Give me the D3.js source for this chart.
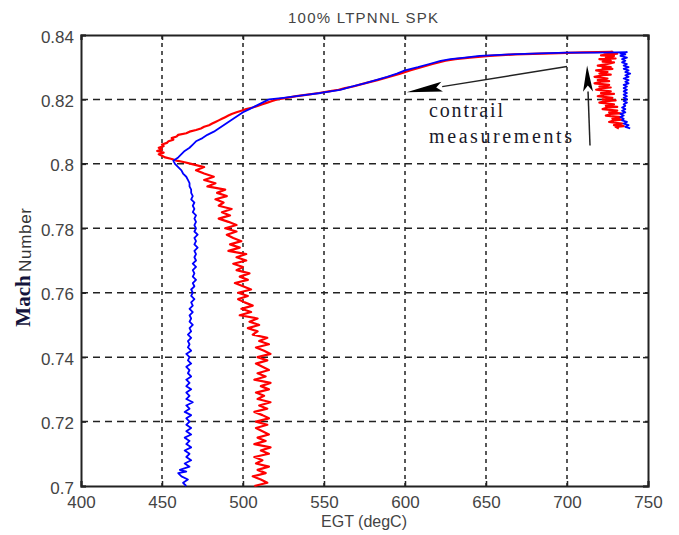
<!DOCTYPE html>
<html>
<head>
<meta charset="utf-8">
<script src="https://cdn.jsdelivr.net/npm/d3@7"></script>
<style>
  body { margin: 0; background: #fff; }
  text { font-family: "Liberation Sans", Arial, sans-serif; }
</style>
</head>
<body>
<div id="app"></div>
<script>
const xTicks = [400, 450, 500, 550, 600, 650, 700, 750];
const yTicks = [0.7, 0.72, 0.74, 0.76, 0.78, 0.8, 0.82, 0.84];

// [mach, egt] in recorded order
const blueTrace = [
  [0.700, 465], [0.701, 463], [0.702, 466], [0.703, 462], [0.704, 460], [0.7045, 465],
  [0.705, 461], [0.706, 467], [0.707, 464], [0.708, 468], [0.709, 465], [0.710, 467],
  [0.711, 464], [0.712, 468], [0.713, 465], [0.714, 467], [0.715, 464], [0.716, 468],
  [0.717, 465], [0.718, 468], [0.719, 465], [0.720, 467], [0.721, 465], [0.722, 468],
  [0.723, 464], [0.724, 467], [0.725, 465], [0.726, 469], [0.727, 465], [0.728, 467],
  [0.729, 465], [0.730, 468], [0.731, 465], [0.732, 467], [0.733, 465], [0.734, 468],
  [0.735, 466], [0.736, 467], [0.737, 465], [0.738, 468], [0.739, 466], [0.740, 467],
  [0.741, 465], [0.742, 468], [0.743, 466], [0.744, 467], [0.745, 466], [0.746, 468],
  [0.747, 466], [0.748, 468], [0.749, 467], [0.750, 469], [0.751, 467], [0.752, 468],
  [0.753, 467], [0.754, 469], [0.755, 467], [0.756, 469], [0.757, 468], [0.758, 470],
  [0.759, 468], [0.760, 469], [0.761, 468], [0.762, 470], [0.763, 469], [0.764, 471],
  [0.765, 469], [0.766, 470], [0.767, 469], [0.768, 471], [0.769, 469], [0.770, 471],
  [0.771, 470], [0.772, 471], [0.773, 470], [0.774, 472], [0.775, 470], [0.776, 471],
  [0.777, 470], [0.778, 472], [0.779, 470], [0.780, 471], [0.781, 470], [0.782, 471],
  [0.783, 470], [0.784, 471], [0.785, 469], [0.786, 470], [0.787, 469], [0.788, 470],
  [0.789, 468], [0.790, 469], [0.791, 468], [0.792, 468], [0.793, 467], [0.794, 467],
  [0.795, 466], [0.796, 465], [0.797, 463], [0.798, 462], [0.799, 460], [0.800, 458],
  [0.801, 457], [0.802, 460], [0.803, 462], [0.804, 464], [0.805, 467], [0.806, 469],
  [0.807, 471], [0.808, 475], [0.809, 478], [0.810, 482], [0.811, 485], [0.812, 488],
  [0.813, 491], [0.814, 494], [0.815, 497], [0.816, 500], [0.817, 504], [0.818, 508],
  [0.819, 512], [0.820, 516], [0.8205, 525], [0.821, 533], [0.8215, 540], [0.822, 548],
  [0.823, 560], [0.824, 567], [0.825, 575], [0.826, 582], [0.827, 589], [0.828, 595],
  [0.829, 600], [0.830, 608], [0.831, 615], [0.832, 622], [0.8325, 628], [0.833, 637],
  [0.8335, 646], [0.834, 665], [0.8343, 683], [0.8345, 700], [0.8345, 717], [0.8346, 730],
  [0.8347, 737], [0.8342, 733], [0.834, 736], [0.8335, 733], [0.833, 737], [0.8325, 734],
  [0.832, 736], [0.8315, 734], [0.831, 737], [0.8305, 735], [0.830, 738], [0.8295, 735],
  [0.829, 738], [0.8285, 736], [0.828, 739], [0.8275, 736], [0.827, 738], [0.8265, 735],
  [0.826, 738], [0.8255, 736], [0.825, 738], [0.8245, 735], [0.824, 737], [0.8235, 735],
  [0.823, 737], [0.8225, 735], [0.822, 737], [0.8215, 735], [0.821, 737], [0.8205, 735],
  [0.820, 737], [0.8195, 735], [0.819, 737], [0.8185, 735], [0.818, 736], [0.8175, 734],
  [0.817, 736], [0.8165, 734], [0.816, 736], [0.8155, 733], [0.815, 735], [0.8145, 733],
  [0.814, 735], [0.8135, 734], [0.813, 737], [0.8125, 735], [0.812, 738], [0.8115, 736],
  [0.811, 739]
];

const redTrace = [
  [0.700, 507], [0.701, 515], [0.702, 511], [0.703, 506], [0.704, 514], [0.705, 509],
  [0.706, 516], [0.707, 508], [0.708, 512], [0.709, 507], [0.710, 516], [0.711, 511],
  [0.712, 517], [0.713, 507], [0.714, 514], [0.715, 509], [0.716, 516], [0.717, 512],
  [0.718, 508], [0.719, 515], [0.720, 508], [0.721, 516], [0.722, 512], [0.723, 507],
  [0.724, 515], [0.725, 510], [0.726, 517], [0.727, 509], [0.728, 513], [0.729, 508],
  [0.730, 516], [0.731, 511], [0.732, 517], [0.733, 507], [0.734, 514], [0.735, 509],
  [0.736, 516], [0.737, 512], [0.738, 508], [0.739, 515], [0.740, 509], [0.741, 517],
  [0.742, 513], [0.743, 508], [0.744, 516], [0.745, 510], [0.746, 515], [0.747, 506],
  [0.748, 509], [0.749, 503], [0.750, 510], [0.751, 504], [0.752, 509], [0.753, 498],
  [0.754, 505], [0.755, 499], [0.756, 506], [0.757, 501], [0.758, 497], [0.759, 503],
  [0.760, 497], [0.761, 505], [0.762, 500], [0.763, 495], [0.764, 503], [0.765, 498],
  [0.766, 504], [0.767, 496], [0.768, 500], [0.769, 494], [0.770, 502], [0.771, 496],
  [0.772, 502], [0.773, 491], [0.774, 498], [0.775, 492], [0.776, 499], [0.777, 494],
  [0.778, 490], [0.779, 496], [0.780, 489], [0.781, 496], [0.782, 491], [0.783, 485],
  [0.784, 492], [0.785, 487], [0.786, 493], [0.787, 485], [0.788, 488], [0.789, 483],
  [0.790, 490], [0.791, 484], [0.792, 489], [0.793, 478], [0.794, 483], [0.795, 476],
  [0.796, 482], [0.797, 476], [0.798, 471], [0.799, 476], [0.800, 468], [0.8005, 464],
  [0.801, 459], [0.8015, 456], [0.802, 452], [0.8025, 450], [0.803, 448], [0.8035, 451],
  [0.804, 447], [0.8045, 450], [0.805, 448], [0.8055, 451], [0.806, 450], [0.8065, 453],
  [0.807, 454], [0.8075, 457], [0.808, 456], [0.8085, 459], [0.809, 460], [0.8095, 465],
  [0.810, 467], [0.8105, 471], [0.811, 474], [0.8115, 476], [0.812, 479], [0.8125, 481],
  [0.813, 483], [0.8135, 485], [0.814, 487], [0.8145, 489], [0.815, 491], [0.8155, 493],
  [0.816, 496], [0.8165, 499], [0.817, 502], [0.8175, 506], [0.818, 509], [0.8185, 512],
  [0.819, 515], [0.8195, 518], [0.820, 521], [0.8205, 527], [0.821, 533], [0.8215, 540],
  [0.822, 547], [0.8225, 553], [0.823, 559], [0.8235, 563], [0.824, 568], [0.825, 575],
  [0.826, 583], [0.827, 590], [0.828, 597], [0.829, 603], [0.830, 610], [0.831, 617],
  [0.832, 625], [0.8325, 631], [0.833, 640], [0.8335, 652], [0.834, 668], [0.8343, 690],
  [0.8346, 710], [0.8348, 728], [0.8345, 723], [0.8342, 731], [0.834, 726], [0.8337, 721],
  [0.8335, 729], [0.833, 724], [0.8327, 730], [0.8325, 720], [0.832, 727], [0.8317, 722],
  [0.8315, 729], [0.831, 725], [0.8305, 719], [0.830, 727], [0.8297, 722], [0.8295, 728],
  [0.829, 718], [0.8285, 725], [0.828, 720], [0.8277, 727], [0.8275, 722], [0.827, 717],
  [0.8265, 725], [0.826, 719], [0.8257, 726], [0.8255, 721], [0.825, 717], [0.8245, 726],
  [0.824, 720], [0.8237, 727], [0.8235, 722], [0.823, 718], [0.8225, 727], [0.822, 721],
  [0.8217, 729], [0.8215, 723], [0.821, 719], [0.8205, 728], [0.820, 722], [0.8197, 730],
  [0.8195, 724], [0.819, 720], [0.8185, 729], [0.818, 724], [0.8177, 731], [0.8175, 725],
  [0.817, 722], [0.8165, 731], [0.816, 726], [0.8157, 733], [0.8155, 727], [0.815, 724],
  [0.8145, 733], [0.814, 728], [0.8137, 734], [0.8135, 729], [0.813, 726], [0.8125, 734],
  [0.812, 729], [0.8117, 735], [0.8115, 730], [0.811, 732]
];

// annotation arrows: [from egt, from mach, tip egt, tip mach]
const arrowSlant = [700, 0.8302, 601, 0.8222];
const arrowUp = [714.2, 0.8057, 712.4, 0.8305];

const w = 679;
const h = 535;
const plotLeft = 81, plotRight = 648, plotTop = 35, plotBottom = 486;

const xScale = d3.scaleLinear().domain([400, 750]).range([plotLeft, plotRight]);
const yScale = d3.scaleLinear().domain([0.7, 0.84]).range([plotBottom, plotTop]);

const svg = d3.select("#app").append("svg").attr("width", w).attr("height", h);
svg.append("rect").attr("width", w).attr("height", h).attr("fill", "#fff");

//grid
svg.append("g")
  .selectAll("line")
  .data(xTicks.slice(1, -1))
  .join("line")
  .attr("x1", (d) => xScale(d)).attr("x2", (d) => xScale(d))
  .attr("y1", plotTop).attr("y2", plotBottom)
  .attr("stroke", "#222").attr("stroke-width", 1.5)
  .attr("stroke-dasharray", "4,4");

svg.append("g")
  .selectAll("line")
  .data(yTicks.slice(1, -1))
  .join("line")
  .attr("y1", (d) => yScale(d)).attr("y2", (d) => yScale(d))
  .attr("x1", plotLeft).attr("x2", plotRight)
  .attr("stroke", "#222").attr("stroke-width", 1.5)
  .attr("stroke-dasharray", "7,5");

//axes (MATLAB style inner ticks)
const xAxis = svg.append("g").attr("transform", `translate(0,${plotBottom})`)
  .call(d3.axisBottom(xScale).tickValues(xTicks).tickSize(-5).tickPadding(10).tickFormat(d3.format("d")));
const xAxisTop = svg.append("g").attr("transform", `translate(0,${plotTop})`)
  .call(d3.axisTop(xScale).tickValues(xTicks).tickSize(-5).tickFormat(""));
const yAxis = svg.append("g").attr("transform", `translate(${plotLeft},0)`)
  .call(d3.axisLeft(yScale).tickValues(yTicks).tickSize(-5).tickPadding(7).tickFormat((d) => String(+d.toFixed(2))));
const yAxisRight = svg.append("g").attr("transform", `translate(${plotRight},0)`)
  .call(d3.axisRight(yScale).tickValues(yTicks).tickSize(-5).tickFormat(""));

[xAxis, xAxisTop, yAxis, yAxisRight].forEach((a) => {
  a.select(".domain").attr("stroke", "#222").attr("stroke-width", 2);
  a.selectAll(".tick line").attr("stroke", "#222").attr("stroke-width", 1.5);
  a.selectAll(".tick text")
    .attr("fill", "#444")
    .style("font-size", "17px")
    .style("font-family", "'Liberation Sans', Arial, sans-serif");
});
yAxis.selectAll(".tick text").attr("dy", "0.42em");

//traces
const line = d3.line().x((d) => xScale(d[1])).y((d) => yScale(d[0]));

svg.append("path")
  .datum(redTrace)
  .attr("d", line)
  .attr("fill", "none")
  .attr("stroke", "#ff0000")
  .attr("stroke-width", 2.2)
  .attr("stroke-linejoin", "round");

svg.append("path")
  .datum(blueTrace)
  .attr("d", line)
  .attr("fill", "none")
  .attr("stroke", "#0000ff")
  .attr("stroke-width", 1.8)
  .attr("stroke-linejoin", "round");

//arrows
const drawArrow = (a, headLen, headHalf) => {
  const x0 = xScale(a[0]), y0 = yScale(a[1]);
  const x1 = xScale(a[2]), y1 = yScale(a[3]);
  const len = Math.hypot(x1 - x0, y1 - y0);
  const ux = (x1 - x0) / len, uy = (y1 - y0) / len;
  const bx = x1 - ux * headLen, by = y1 - uy * headLen;
  svg.append("line")
    .attr("x1", x0).attr("y1", y0).attr("x2", bx).attr("y2", by)
    .attr("stroke", "#222").attr("stroke-width", 1.5);
  svg.append("polygon")
    .attr("points", [
      [x1, y1],
      [bx - uy * headHalf, by + ux * headHalf],
      [bx + ux * 6, by + uy * 6],
      [bx + uy * headHalf, by - ux * headHalf]
    ].join(" "))
    .attr("fill", "#000");
};
drawArrow(arrowSlant, 36, 5);
drawArrow(arrowUp, 26, 5);

//annotation text
svg.append("text")
  .attr("x", 429).attr("y", 117)
  .attr("textLength", 74)
  .style("font-family", "'Liberation Serif', 'Times New Roman', serif")
  .style("font-size", "20px")
  .attr("fill", "#1a1a2a")
  .text("contrail");
svg.append("text")
  .attr("x", 429).attr("y", 143)
  .attr("textLength", 143)
  .style("font-family", "'Liberation Serif', 'Times New Roman', serif")
  .style("font-size", "20px")
  .attr("fill", "#1a1a2a")
  .text("measurements");

//title and labels
svg.append("text")
  .attr("x", 363).attr("y", 23)
  .attr("text-anchor", "middle")
  .attr("textLength", 150)
  .style("font-size", "15px")
  .attr("fill", "#444")
  .text("100% LTPNNL SPK");

svg.append("text")
  .attr("x", 364).attr("y", 527)
  .attr("text-anchor", "middle")
  .style("font-size", "16px")
  .attr("fill", "#444")
  .text("EGT (degC)");

svg.append("text")
  .attr("transform", "translate(30,301) rotate(-90)")
  .attr("text-anchor", "middle")
  .style("font-family", "'Liberation Serif', 'Times New Roman', serif")
  .style("font-size", "21px")
  .style("font-weight", "bold")
  .attr("fill", "#14143c")
  .text("Mach");

svg.append("text")
  .attr("transform", "translate(31,240) rotate(-90)")
  .attr("text-anchor", "middle")
  .attr("textLength", 64)
  .style("font-size", "17px")
  .attr("fill", "#333")
  .text("Number");
</script>
</body>
</html>
